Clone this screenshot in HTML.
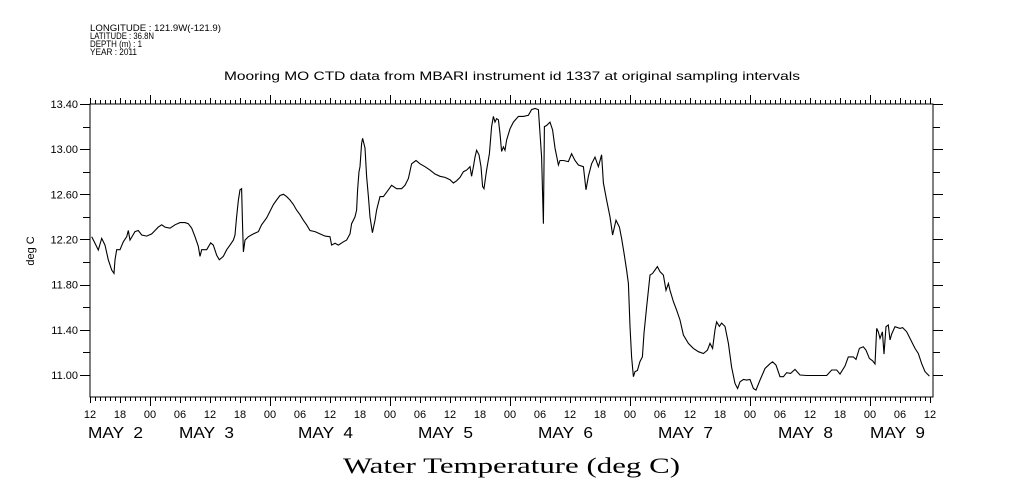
<!DOCTYPE html>
<html><head><meta charset="utf-8"><style>
html,body{margin:0;padding:0;background:#fff;}
svg{display:block;}
text{font-family:"Liberation Sans",sans-serif;fill:#000;}
</style></head><body>
<svg id="chart" width="1009" height="504" viewBox="0 0 1009 504" xmlns="http://www.w3.org/2000/svg">
<g font-size="9">
<text x="90" y="31" textLength="131" lengthAdjust="spacingAndGlyphs">LONGITUDE : 121.9W(-121.9)</text>
<text x="90" y="39" textLength="64" lengthAdjust="spacingAndGlyphs">LATITUDE : 36.8N</text>
<text x="90" y="47" textLength="52" lengthAdjust="spacingAndGlyphs">DEPTH (m) : 1</text>
<text x="90" y="55" textLength="47" lengthAdjust="spacingAndGlyphs">YEAR : 2011</text>
</g>
<text x="224" y="80" font-size="12" textLength="576" lengthAdjust="spacingAndGlyphs">Mooring MO CTD data from MBARI instrument id 1337 at original sampling intervals</text>
<text transform="translate(34,251) rotate(-90)" text-anchor="middle" font-size="11">deg C</text>
<text x="343" y="473" font-size="22" textLength="337" lengthAdjust="spacingAndGlyphs" style="font-family:'Liberation Serif',serif">Water Temperature (deg C)</text>
<g id="axes"></g>
<g id="series"></g>
</svg>
<script>
const hours = [-11.67,-11,-10.33,-9.67,-9,-8.33,-7.67,-7.2,-7,-6.67,-6,-5.33,-4.67,-4.33,-4,-3,-2.33,-1.67,-0.67,0.33,1,1.67,2.33,3,4,5,6,7,7.67,8.33,9,9.67,10,10.33,11.33,12.13,12.67,13.33,13.87,14.67,15.33,16,16.67,17,17.33,17.67,18,18.33,18.53,18.67,19,19.67,20.67,21.67,22.33,23.33,24,24.67,25.33,26,26.67,27.33,28,28.67,29.33,30,30.67,31.33,32,33,34,35,36,36.33,37,37.67,38.67,39.33,40,40.33,41,41.33,41.53,41.8,42,42.33,42.53,43,43.33,43.67,44,44.47,45,45.33,46,46.67,47.67,48.33,49.33,50.33,51,51.67,52.33,53.2,54,55,56,57,58,59,60,60.67,61.33,62,62.67,63.33,64,64.33,64.67,65,65.33,65.8,66.2,66.53,66.8,67.33,67.87,68.33,68.67,69,69.33,69.67,70,70.33,70.67,71,71.33,72,72.67,73.67,74.67,75.67,76.33,77,77.67,78,78.33,78.67,78.87,79.33,80,80.53,81,81.67,82,82.67,83.67,84.33,85,85.67,86.67,87.2,87.67,88.33,89,89.67,90.33,90.67,91.33,92,92.53,93.2,93.87,94.33,94.8,95.33,95.67,96,96.33,96.67,97,97.47,98,98.47,98.8,99.33,99.67,100,100.53,101,101.47,102,102.67,103.2,103.67,104,104.67,105.33,106,106.67,107.67,108.67,109.67,110.67,111.47,112,112.53,113,113.33,113.87,114.33,115,115.67,116.33,117,117.53,118,118.67,119.33,120,120.67,121.2,122,123,124,124.53,125.2,126,126.67,127.33,128.13,129,130,131.33,132.67,135.33,136.33,137.33,138,139,139.67,140.67,141.2,141.87,142.67,143.2,143.87,144.53,145,145.33,145.67,146,146.47,146.8,147.2,147.67,148,148.33,149,150,150.53,151.33,152,153,153.67,154.33,155,155.87];
const temps = [12.225,12.166,12.107,12.21,12.15,12.02,11.93,11.90,12.02,12.11,12.11,12.18,12.225,12.28,12.195,12.27,12.28,12.24,12.23,12.25,12.28,12.31,12.33,12.31,12.30,12.33,12.35,12.35,12.34,12.30,12.225,12.14,12.05,12.11,12.11,12.17,12.15,12.06,12.02,12.05,12.11,12.15,12.195,12.24,12.40,12.55,12.64,12.65,12.28,12.09,12.195,12.225,12.25,12.27,12.33,12.39,12.45,12.51,12.55,12.59,12.60,12.58,12.55,12.51,12.46,12.42,12.37,12.33,12.28,12.27,12.25,12.23,12.225,12.15,12.166,12.15,12.18,12.195,12.25,12.34,12.40,12.46,12.64,12.80,12.845,13.05,13.096,13.01,12.76,12.58,12.40,12.26,12.37,12.46,12.58,12.58,12.64,12.68,12.65,12.65,12.68,12.74,12.87,12.90,12.87,12.845,12.815,12.78,12.76,12.75,12.73,12.70,12.72,12.75,12.80,12.815,12.845,12.76,12.845,12.93,12.99,12.95,12.845,12.67,12.65,12.815,12.96,13.20,13.29,13.24,13.27,13.26,13.14,12.98,13.02,12.99,13.08,13.18,13.24,13.29,13.29,13.30,13.35,13.36,13.35,13.14,12.93,12.34,13.20,13.21,13.24,13.17,13.01,12.86,12.90,12.90,12.89,12.96,12.90,12.86,12.845,12.64,12.76,12.87,12.93,12.845,12.95,12.70,12.55,12.40,12.24,12.37,12.31,12.21,12.08,11.93,11.81,11.43,11.16,10.985,11.03,11.04,11.12,11.16,11.37,11.60,11.75,11.885,11.90,11.93,11.96,11.915,11.885,11.75,11.81,11.75,11.65,11.575,11.487,11.354,11.28,11.236,11.206,11.19,11.22,11.28,11.236,11.40,11.47,11.43,11.46,11.43,11.28,11.07,10.925,10.88,10.94,10.96,10.955,10.96,10.88,10.866,10.955,11.058,11.10,11.117,11.088,10.985,10.985,11.02,11.014,11.05,11.0,10.996,10.996,10.996,11.044,11.044,11.008,11.08,11.16,11.16,11.138,11.236,11.25,11.22,11.147,11.126,11.097,11.413,11.383,11.324,11.383,11.185,11.428,11.443,11.31,11.363,11.428,11.413,11.42,11.383,11.324,11.236,11.19,11.10,11.03,10.99];
const yTickValues = [11.00,11.40,11.80,12.20,12.60,13.00,13.40];
const yTickLabels = ["11.00","11.40","11.80","12.20","12.60","13.00","13.40"];
const xTickLabels = ["12","18","00","06","12","18","00","06","12","18","00","06","12","18","00","06","12","18","00","06","12","18","00","06","12","18","00","06","12"];
const dayLabels = ["MAY  2","MAY  3","MAY  4","MAY  5","MAY  6","MAY  7","MAY  8","MAY  9"];
const dayLabelHours = [-7,11.2,35,59,83,107,131,149.4];

const NS="http://www.w3.org/2000/svg";
const L=90,R=933,T=104,B=397;
const xs=h=>150+h*5;
const ys=v=>375-(v-11.0)*(271/2.4);
const axes=document.getElementById('axes');
function mk(tag,attrs,parent){const e=document.createElementNS(NS,tag);for(const k in attrs)e.setAttribute(k,attrs[k]);parent.appendChild(e);return e;}

const frame=mk('rect',{x:L,y:T,width:R-L,height:B-T,fill:'none',stroke:'#000','stroke-width':1},axes);



let d='';
for(let h=-12;h<=157;h++){
  const x=Math.round(xs(h))+0.5; if(x<L||x>R+1)continue;
  const len=(((h%24)+24)%24===0)?9:(h%6===0?6:4);
  d+=`M${x} ${B}v${len}M${x} ${T}v${-len}`;
}
for(let i=0;i<=13;i++){
  const v=10.8+i*0.2; const y=Math.round(ys(v))+0.5; if(y<T-1||y>B)continue;
  const len=(i%2===1)?10:7;
  d+=`M${L} ${y}h${-len}M${R} ${y}h${len}`;
}
const ticks=mk('path',{d:d,stroke:'#000','stroke-width':1,fill:'none'},axes);



yTickValues.forEach((v,i)=>{
  const t=mk('text',{x:78,y:ys(v)+4,'text-anchor':'end','font-size':11},axes);
  t.textContent=yTickLabels[i];
  
  
});
xTickLabels.forEach((s,i)=>{
  const t=mk('text',{x:xs(-12+i*6),y:418,'text-anchor':'middle','font-size':11},axes);
  t.textContent=s;
  
  
});
dayLabels.forEach((s,i)=>{
  const t=mk('text',{x:xs(dayLabelHours[i])-27,y:438,'font-size':16,textLength:55,lengthAdjust:'spacingAndGlyphs'},axes);
  t.style.whiteSpace='pre';
  t.textContent=s;
  
  
});

const pts=hours.map((h,i)=>xs(h).toFixed(1)+','+ys(temps[i]).toFixed(1)).join(' ');
const line=mk('polyline',{points:pts,fill:'none',stroke:'#000','stroke-width':1.1},document.getElementById('series'));


</script>
</body></html>
